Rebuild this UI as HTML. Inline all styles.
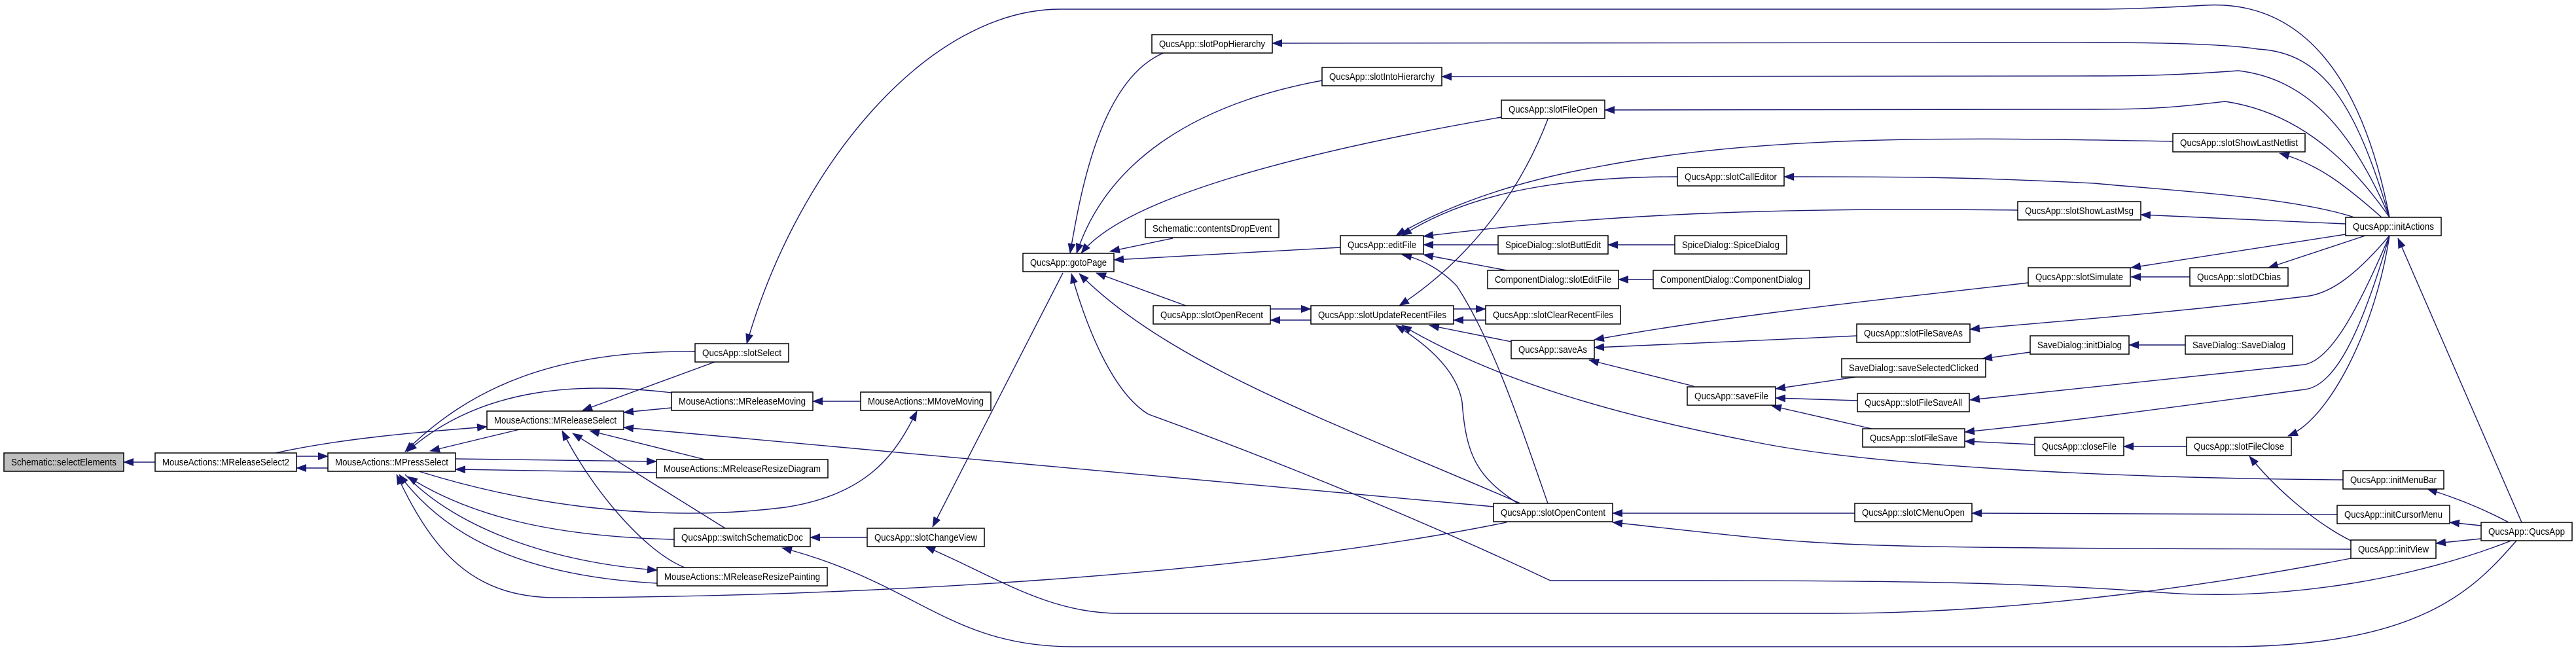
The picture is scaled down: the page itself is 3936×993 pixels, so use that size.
<!DOCTYPE html>
<html><head><meta charset="utf-8"><style>
html,body{margin:0;padding:0;background:#fff;}
svg{display:block;}
text{font-family:"Liberation Sans",sans-serif;font-size:15px;fill:#000;}
</style></head><body>
<svg width="3936" height="993" viewBox="0 0 3936 993" xmlns="http://www.w3.org/2000/svg">
<defs>
<marker id="a" markerUnits="userSpaceOnUse" markerWidth="16" markerHeight="12" refX="15" refY="6" orient="auto">
<path d="M0,0 L16,6 L0,12 Z" fill="#191970"/>
</marker>
</defs>
<g fill="none" stroke="#191970" stroke-width="1.4" marker-end="url(#a)">
<path d="M237,706 L189,706"/>
<path d="M501,715 L453,715"/>
<path d="M453,697 L501,697"/>
<path d="M421,692 C520,670 640,660 744,652"/>
<path d="M794,656 L657,689"/>
<path d="M1062,537 C850,535 720,590 619,690"/>
<path d="M1026,600 C900,585 740,585 622,690"/>
<path d="M1092,553 L890,627"/>
<path d="M1026,623 L953,630"/>
<path d="M1315,613 L1242,613"/>
<path d="M2282,774 L953,653"/>
<path d="M696,701 L1003,705"/>
<path d="M1003,722 L696,717"/>
<path d="M1077,702 L901,658"/>
<path d="M640,720 C800,770 1000,800 1200,775 C1330,755 1370,690 1401,628"/>
<path d="M1030,824 C850,820 720,790 623,728"/>
<path d="M1108,807 L875,662"/>
<path d="M1325,821 L1238,821"/>
<path d="M3845,826 C3780,900 3700,988 3400,988 L1640,988 C1450,988 1400,890 1195,837"/>
<path d="M619,725 C700,810 850,860 1004,871"/>
<path d="M1004,891 C800,880 680,820 610,725"/>
<path d="M1046,867 C980,840 900,740 859,658"/>
<path d="M2302,798 C1900,880 1300,912 850,913 C720,913 660,840 606,725"/>
<path d="M3651,332 C3610,120 3520,0 3370,8 C3300,12 3250,14 3200,14 L1620,14 C1420,14 1220,250 1141,525"/>
<path d="M1780,80 C1680,120 1650,300 1635,387"/>
<path d="M2020,123 C1820,160 1690,250 1645,387"/>
<path d="M2294,179 C2000,230 1720,300 1652,387"/>
<path d="M1792,364 L1696,384"/>
<path d="M2048,378 L1702,397"/>
<path d="M1812,467 L1675,417"/>
<path d="M2323,769 C2050,650 1790,560 1649,418"/>
<path d="M3837,826 C3700,880 3500,920 3300,905 C3100,890 2900,887 2600,887 L2369,887 C2100,760 1830,660 1755,633 C1700,600 1660,500 1637,418"/>
<path d="M1624,417 L1425,805"/>
<path d="M2365,182 C2320,300 2240,400 2138,467"/>
<path d="M3320,216 C3000,210 2700,205 2440,255 C2300,280 2200,320 2133,360"/>
<path d="M2563,270 C2400,270 2250,290 2142,360"/>
<path d="M3083,321 C2800,318 2500,320 2175,361"/>
<path d="M2289,374 L2175,374"/>
<path d="M2302,413 L2175,389"/>
<path d="M2365,769 C2320,640 2280,520 2226,437 C2200,410 2170,395 2142,389"/>
<path d="M2559,374 L2457,374"/>
<path d="M2526,427 L2473,427"/>
<path d="M1941,472 L2003,472"/>
<path d="M2003,489 L1941,489"/>
<path d="M2221,472 L2270,472"/>
<path d="M2270,489 L2221,489"/>
<path d="M2309,522 L2184,497"/>
<path d="M2319,769 C2260,730 2240,700 2234,614 C2225,560 2170,520 2133,497"/>
<path d="M3580,733 C3200,730 2850,710 2680,675 C2500,640 2300,590 2142,497"/>
<path d="M3099,432 C2900,455 2650,480 2436,519"/>
<path d="M2837,513 C2700,520 2550,525 2436,531"/>
<path d="M2588,590 L2428,550"/>
<path d="M3651,332 C3600,160 3550,80 3450,75 C3400,67 3300,65 3200,65 L1944,66"/>
<path d="M3651,332 C3590,190 3520,120 3420,108 C3350,113 3300,116 3200,116 L2203,117"/>
<path d="M3651,332 C3580,230 3500,170 3400,155 C3340,162 3300,167 3200,167 L2452,168"/>
<path d="M3639,332 C3580,280 3540,250 3483,234"/>
<path d="M3597,332 C3500,300 3300,290 3200,280 C3000,270 2900,270 2726,270"/>
<path d="M3584,342 L3271,328"/>
<path d="M3584,358 L3256,409"/>
<path d="M3614,360 L3466,409"/>
<path d="M3346,423 L3256,423"/>
<path d="M3651,360 C3600,420 3560,450 3521,453 C3300,480 3150,490 3010,503"/>
<path d="M3651,360 C3600,480 3560,550 3521,557 C3300,580 3150,595 3010,611"/>
<path d="M3651,360 C3610,500 3570,590 3521,595 C3300,625 3150,645 3002,660"/>
<path d="M3651,360 C3630,500 3560,640 3496,666"/>
<path d="M3853,798 L3664,364"/>
<path d="M3339,527 L3253,527"/>
<path d="M3102,538 L3029,548"/>
<path d="M2835,576 L2713,594"/>
<path d="M2838,612 L2713,608"/>
<path d="M2860,655 L2707,620"/>
<path d="M3109,679 L3002,674"/>
<path d="M3341,682 L3245,682"/>
<path d="M3592,826 C3540,800 3480,750 3437,697"/>
<path d="M3833,798 C3790,775 3750,760 3709,747"/>
<path d="M3791,803 L3743,798"/>
<path d="M3791,823 L3722,830"/>
<path d="M3571,786 L3013,784"/>
<path d="M2834,784 L2464,784"/>
<path d="M3592,839 C3100,838 2900,836 2800,830 C2700,825 2620,815 2464,798"/>
<path d="M3592,853 C3400,890 3100,937 2800,937 L1710,937 C1600,937 1520,880 1414,835"/>
</g>
<g stroke="#000" stroke-width="1.5" fill="#fff">
<rect x="6" y="692" width="183" height="28" fill="#bfbfbf"/>
<rect x="237" y="692" width="216" height="28"/>
<rect x="501" y="692" width="195" height="28"/>
<rect x="744" y="628" width="209" height="28"/>
<rect x="1062" y="525" width="143" height="28"/>
<rect x="1026" y="599" width="216" height="28"/>
<rect x="1003" y="702" width="262" height="28"/>
<rect x="1030" y="807" width="208" height="28"/>
<rect x="1004" y="867" width="260" height="28"/>
<rect x="1315" y="599" width="199" height="28"/>
<rect x="1325" y="807" width="179" height="28"/>
<rect x="1563" y="387" width="139" height="28"/>
<rect x="1760" y="53" width="184" height="28"/>
<rect x="2020" y="103" width="183" height="28"/>
<rect x="2294" y="153" width="158" height="28"/>
<rect x="1750" y="335" width="204" height="28"/>
<rect x="2048" y="360" width="127" height="28"/>
<rect x="2289" y="360" width="168" height="28"/>
<rect x="2273" y="413" width="200" height="28"/>
<rect x="1762" y="467" width="179" height="28"/>
<rect x="2003" y="467" width="218" height="28"/>
<rect x="2270" y="467" width="206" height="28"/>
<rect x="2309" y="520" width="127" height="28"/>
<rect x="2282" y="769" width="182" height="28"/>
<rect x="2563" y="256" width="163" height="28"/>
<rect x="2559" y="360" width="171" height="28"/>
<rect x="2526" y="413" width="239" height="28"/>
<rect x="2578" y="591" width="135" height="28"/>
<rect x="3320" y="204" width="202" height="28"/>
<rect x="3083" y="308" width="188" height="28"/>
<rect x="3584" y="332" width="146" height="28"/>
<rect x="3099" y="409" width="156" height="28"/>
<rect x="3346" y="409" width="150" height="28"/>
<rect x="2837" y="495" width="173" height="28"/>
<rect x="3102" y="513" width="151" height="28"/>
<rect x="3339" y="513" width="164" height="28"/>
<rect x="2814" y="548" width="220" height="28"/>
<rect x="2838" y="601" width="171" height="28"/>
<rect x="2846" y="655" width="156" height="28"/>
<rect x="3109" y="668" width="136" height="28"/>
<rect x="3341" y="668" width="160" height="28"/>
<rect x="3580" y="719" width="154" height="28"/>
<rect x="2834" y="769" width="179" height="28"/>
<rect x="3571" y="772" width="172" height="28"/>
<rect x="3592" y="825" width="130" height="28"/>
<rect x="3791" y="798" width="139" height="28"/>
</g>
<g lengthAdjust="spacingAndGlyphs">
<text x="17" y="711" textLength="161" lengthAdjust="spacingAndGlyphs">Schematic::selectElements</text>
<text x="248" y="711" textLength="194" lengthAdjust="spacingAndGlyphs">MouseActions::MReleaseSelect2</text>
<text x="512" y="711" textLength="173" lengthAdjust="spacingAndGlyphs">MouseActions::MPressSelect</text>
<text x="755" y="647" textLength="187" lengthAdjust="spacingAndGlyphs">MouseActions::MReleaseSelect</text>
<text x="1073" y="544" textLength="121" lengthAdjust="spacingAndGlyphs">QucsApp::slotSelect</text>
<text x="1037" y="618" textLength="194" lengthAdjust="spacingAndGlyphs">MouseActions::MReleaseMoving</text>
<text x="1014" y="721" textLength="240" lengthAdjust="spacingAndGlyphs">MouseActions::MReleaseResizeDiagram</text>
<text x="1041" y="826" textLength="186" lengthAdjust="spacingAndGlyphs">QucsApp::switchSchematicDoc</text>
<text x="1015" y="886" textLength="238" lengthAdjust="spacingAndGlyphs">MouseActions::MReleaseResizePainting</text>
<text x="1326" y="618" textLength="177" lengthAdjust="spacingAndGlyphs">MouseActions::MMoveMoving</text>
<text x="1336" y="826" textLength="157" lengthAdjust="spacingAndGlyphs">QucsApp::slotChangeView</text>
<text x="1574" y="406" textLength="117" lengthAdjust="spacingAndGlyphs">QucsApp::gotoPage</text>
<text x="1771" y="72" textLength="162" lengthAdjust="spacingAndGlyphs">QucsApp::slotPopHierarchy</text>
<text x="2031" y="122" textLength="161" lengthAdjust="spacingAndGlyphs">QucsApp::slotIntoHierarchy</text>
<text x="2305" y="172" textLength="136" lengthAdjust="spacingAndGlyphs">QucsApp::slotFileOpen</text>
<text x="1761" y="354" textLength="182" lengthAdjust="spacingAndGlyphs">Schematic::contentsDropEvent</text>
<text x="2059" y="379" textLength="105" lengthAdjust="spacingAndGlyphs">QucsApp::editFile</text>
<text x="2300" y="379" textLength="146" lengthAdjust="spacingAndGlyphs">SpiceDialog::slotButtEdit</text>
<text x="2284" y="432" textLength="178" lengthAdjust="spacingAndGlyphs">ComponentDialog::slotEditFile</text>
<text x="1773" y="486" textLength="157" lengthAdjust="spacingAndGlyphs">QucsApp::slotOpenRecent</text>
<text x="2014" y="486" textLength="196" lengthAdjust="spacingAndGlyphs">QucsApp::slotUpdateRecentFiles</text>
<text x="2281" y="486" textLength="184" lengthAdjust="spacingAndGlyphs">QucsApp::slotClearRecentFiles</text>
<text x="2320" y="539" textLength="105" lengthAdjust="spacingAndGlyphs">QucsApp::saveAs</text>
<text x="2293" y="788" textLength="160" lengthAdjust="spacingAndGlyphs">QucsApp::slotOpenContent</text>
<text x="2574" y="275" textLength="141" lengthAdjust="spacingAndGlyphs">QucsApp::slotCallEditor</text>
<text x="2570" y="379" textLength="149" lengthAdjust="spacingAndGlyphs">SpiceDialog::SpiceDialog</text>
<text x="2537" y="432" textLength="217" lengthAdjust="spacingAndGlyphs">ComponentDialog::ComponentDialog</text>
<text x="2589" y="610" textLength="113" lengthAdjust="spacingAndGlyphs">QucsApp::saveFile</text>
<text x="3331" y="223" textLength="180" lengthAdjust="spacingAndGlyphs">QucsApp::slotShowLastNetlist</text>
<text x="3094" y="327" textLength="166" lengthAdjust="spacingAndGlyphs">QucsApp::slotShowLastMsg</text>
<text x="3595" y="351" textLength="124" lengthAdjust="spacingAndGlyphs">QucsApp::initActions</text>
<text x="3110" y="428" textLength="134" lengthAdjust="spacingAndGlyphs">QucsApp::slotSimulate</text>
<text x="3357" y="428" textLength="128" lengthAdjust="spacingAndGlyphs">QucsApp::slotDCbias</text>
<text x="2848" y="514" textLength="151" lengthAdjust="spacingAndGlyphs">QucsApp::slotFileSaveAs</text>
<text x="3113" y="532" textLength="129" lengthAdjust="spacingAndGlyphs">SaveDialog::initDialog</text>
<text x="3350" y="532" textLength="142" lengthAdjust="spacingAndGlyphs">SaveDialog::SaveDialog</text>
<text x="2825" y="567" textLength="198" lengthAdjust="spacingAndGlyphs">SaveDialog::saveSelectedClicked</text>
<text x="2849" y="620" textLength="149" lengthAdjust="spacingAndGlyphs">QucsApp::slotFileSaveAll</text>
<text x="2857" y="674" textLength="134" lengthAdjust="spacingAndGlyphs">QucsApp::slotFileSave</text>
<text x="3120" y="687" textLength="114" lengthAdjust="spacingAndGlyphs">QucsApp::closeFile</text>
<text x="3352" y="687" textLength="138" lengthAdjust="spacingAndGlyphs">QucsApp::slotFileClose</text>
<text x="3591" y="738" textLength="132" lengthAdjust="spacingAndGlyphs">QucsApp::initMenuBar</text>
<text x="2845" y="788" textLength="157" lengthAdjust="spacingAndGlyphs">QucsApp::slotCMenuOpen</text>
<text x="3582" y="791" textLength="150" lengthAdjust="spacingAndGlyphs">QucsApp::initCursorMenu</text>
<text x="3603" y="844" textLength="108" lengthAdjust="spacingAndGlyphs">QucsApp::initView</text>
<text x="3802" y="817" textLength="117" lengthAdjust="spacingAndGlyphs">QucsApp::QucsApp</text>
</g>
</svg>
</body></html>
